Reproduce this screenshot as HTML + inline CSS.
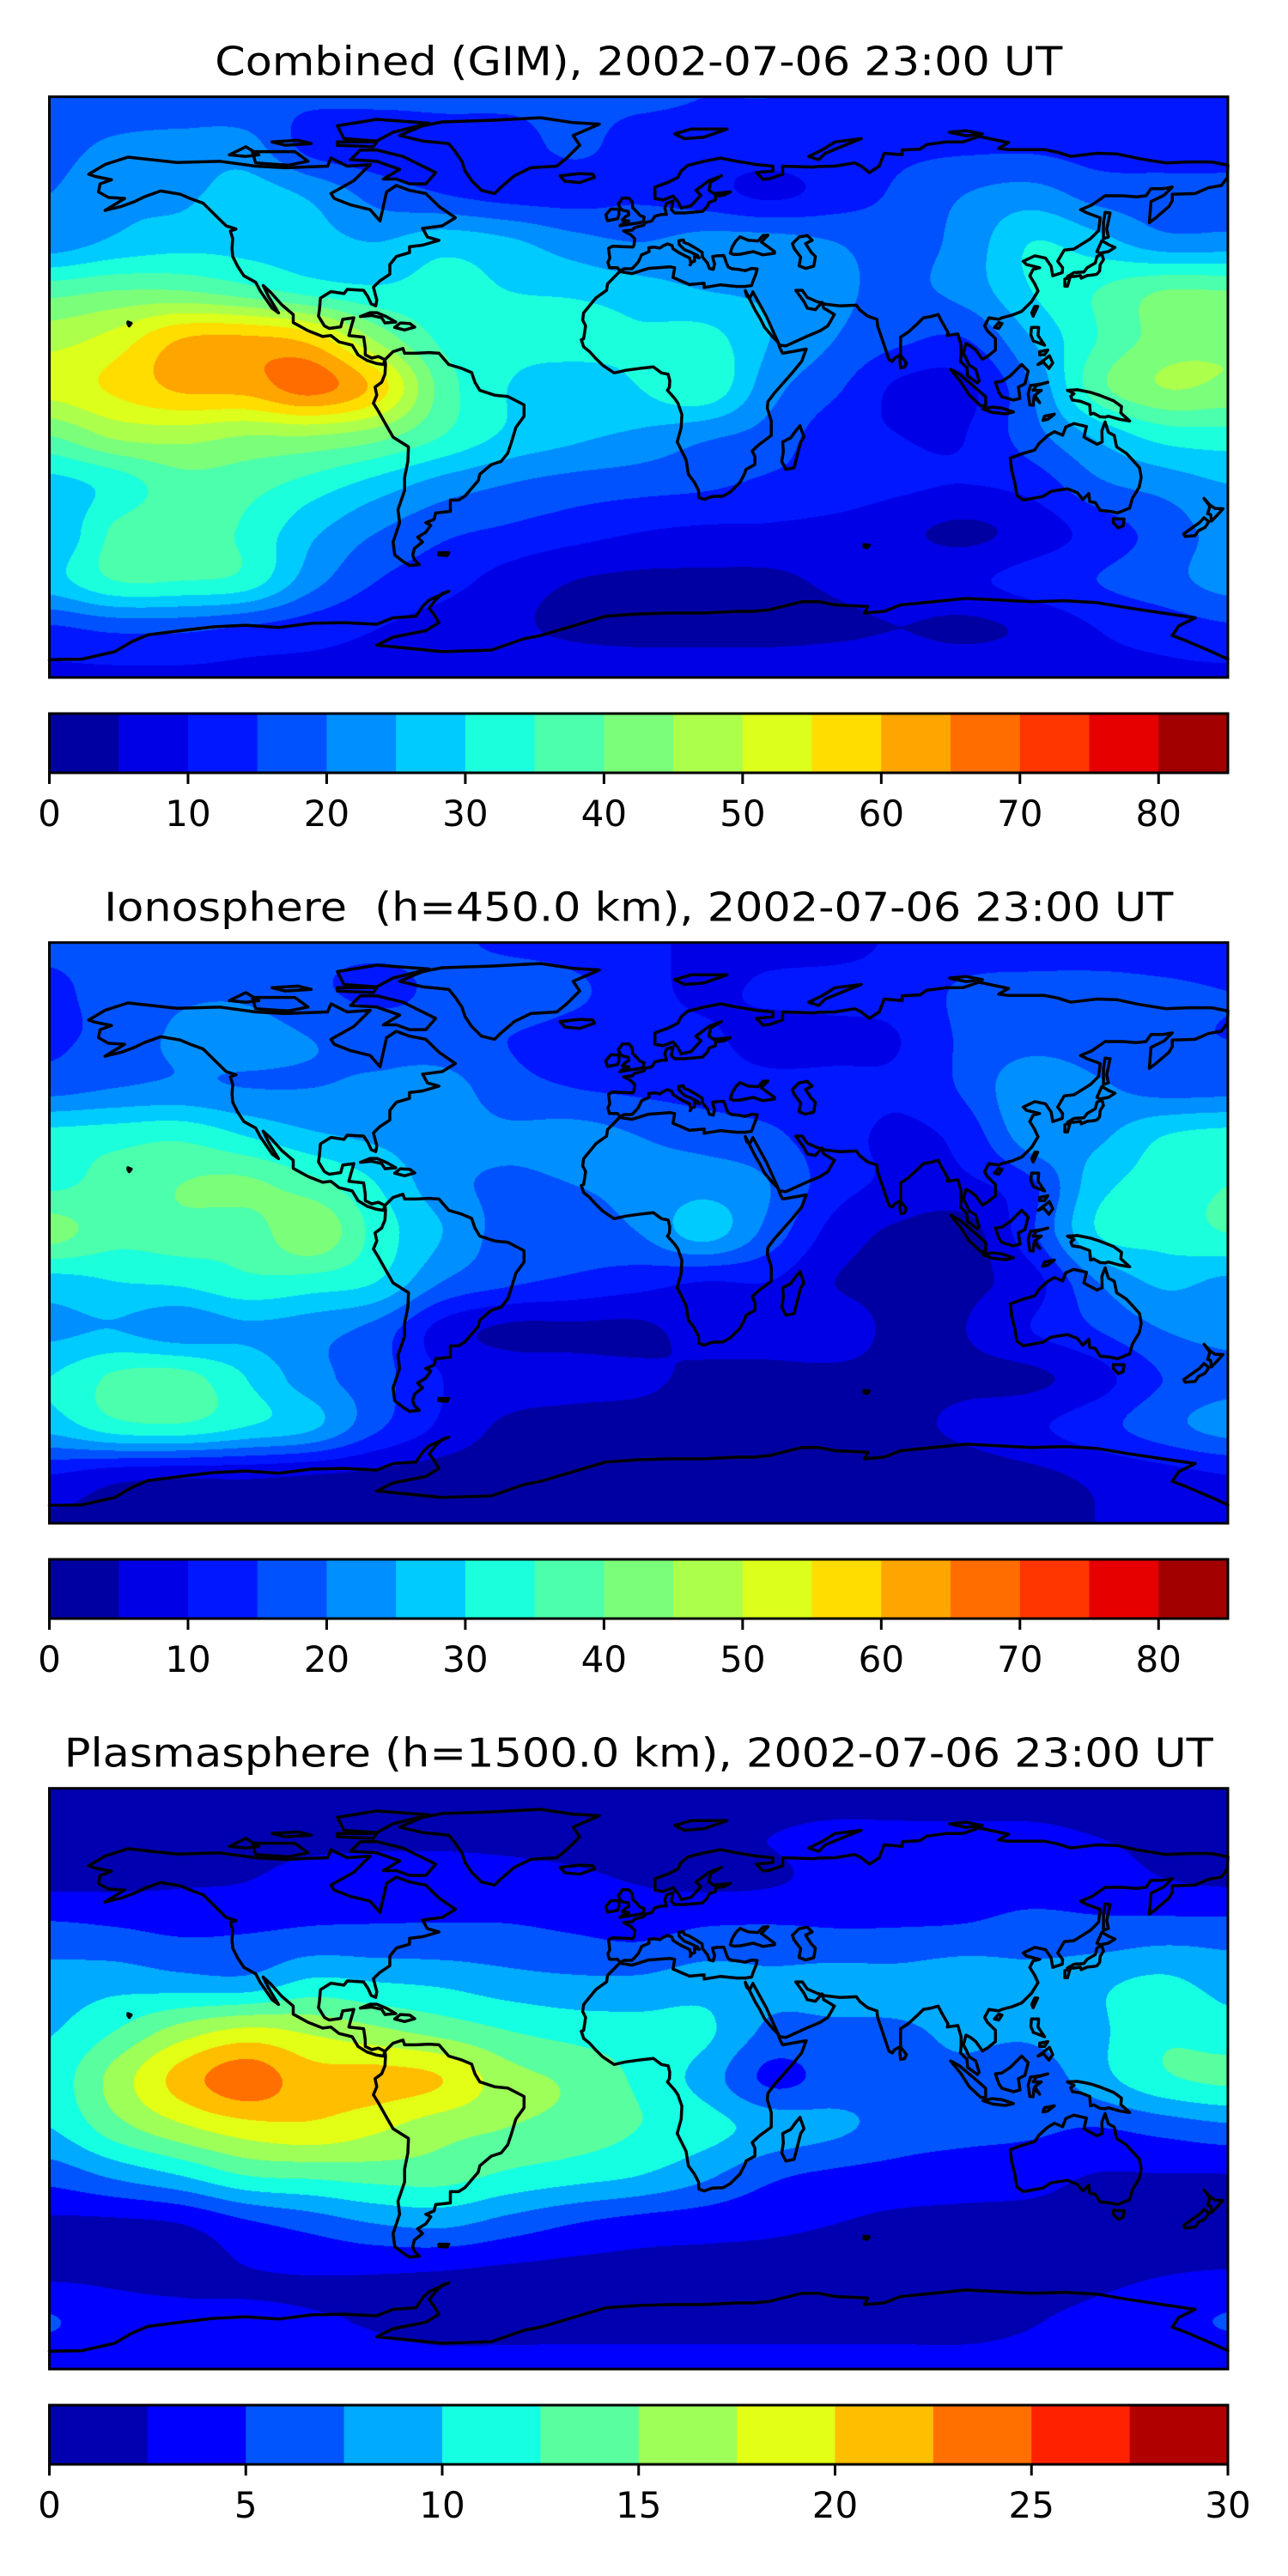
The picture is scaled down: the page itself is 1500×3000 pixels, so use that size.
<!DOCTYPE html>
<html><head><meta charset="utf-8">
<style>
html,body{margin:0;padding:0;background:#fff;}
#wrap{position:relative;width:1500px;height:3000px;overflow:hidden;background:#fff;}
canvas{position:absolute;}
#ov{position:absolute;left:0;top:0;}
text{font-family:"DejaVu Sans","Liberation Sans",sans-serif;fill:#000;}
</style></head>
<body>
<div id="wrap">
<canvas id="c0"></canvas>
<canvas id="c1"></canvas>
<canvas id="c2"></canvas>
<svg id="ov" width="1500" height="3000" xmlns="http://www.w3.org/2000/svg"></svg>
</div>
<script>
// ---- data ----
const lats=[90,75,60,45,30,15,0,-15,-30,-45,-60,-75,-90];
const lons=[-180,-160,-140,-120,-100,-80,-60,-40,-20,0,20,40,60,80,100,120,140,160,180];
const combinedGrid=[
[16,16,16,16,16,16,16,16,16,16,15,15,14,14,13,13,13,13,13],
[18,21,22,22,13,12,13,13,16,13,13,13,14,14,14,14,13,13,13],
[20,24,24,27,24,18,15,13,13,14,12,9,12,16,20,22,18,17,17],
[22,26,28,28,27,25,28,26,22,20,22,22,20,18,22,30,27,22,22],
[38,40,40,37,33,31,32,30,29,27,25,24,21,19,22,30,35,40,40],
[48,52,60,61,58,44,34,32,33,31,32,25,20,16,15,25,35,42,44],
[52,56,61,62,67,58,38,30,26,30,34,22,16,9,9,20,38,45,44],
[40,46,47,45,45,42,35,29,26,24,21,18,12,10,10,18,26,32,33],
[28,32,38,37,33,28,23,20,18,17,16,14,13,11,10,12,19,22,25],
[25,36,38,34,26,20,16,14,12,10,9,9,8,6,4,7,12,17,22],
[28,35,35,33,22,15,12,8,5,4,4,4,6,8,9,12,15,18,22],
[14,16,16,14,12,10,8,6,4,3,3,3,4,5,4,6,10,12,14],
[9,9,9,9,9,9,9,9,9,9,9,9,9,9,9,9,9,9,9]];
const ionoGrid=[
[16,16,16,16,16,16,16,14,13,12,8,8,8,11,12,12,12,12,12],
[14,17,19,19,16,14,16,18,16,12,9,11,12,12,16,17,17,16,15],
[14,17,21,22,20,18,17,15,13,12,11,8,8,10,16,18,17,16,15],
[18,20,21,20,20,21,22,17,15,14,13,12,12,11,16,24,21,18,18],
[32,33,34,30,26,24,22,21,22,20,18,16,12,9,12,23,24,30,32],
[34,37,40,41,37,30,22,19,20,21,23,20,12,9,9,14,28,32,35],
[42,37,38,37,44,33,25,18,18,20,27,18,8,4,3,14,30,32,35],
[28,30,31,34,33,30,20,16,14,12,10,10,5,4,4,8,20,26,24],
[24,25,22,24,22,18,8,4,4,4,7,7,7,4,5,10,15,20,22],
[30,36,37,30,22,17,10,8,7,6,4,4,4,4,4,4,8,15,18],
[27,33,34,30,26,16,9,4,3,3,3,3,3,4,6,9,13,18,22],
[10,7,6,6,5,4,3,3,3,3,3,3,3,3,3,4,6,8,10],
[4,4,4,4,4,4,4,4,4,4,4,4,4,4,4,4,5,6,7]];
const plasmaGrid=[
[1.5,1.5,1.5,1.5,1.5,1.5,1.5,1.5,1.5,1.5,1.5,1.5,1.5,1.5,1.5,1.5,1.5,1.5,1.5],
[2,2,2,2,2,2,2,2,2,2,2,2.5,3,3,3,3,2.5,2,2],
[2.2,2.2,2.4,2.6,3.5,4,4,3.5,3,2.5,2.2,2.4,3.2,3.7,4,4.2,3.8,2.8,2.4],
[6,5.5,4.8,5,5.5,5.5,5.5,5.5,5,4.5,5.5,5.6,5.3,5.3,5.5,6,6,6.5,6.5],
[8.5,9,8.5,8.3,10.5,10,9.5,8.5,8,8,8.8,8,8.5,8.5,9.5,8.5,9.5,10.5,9],
[9.8,12.5,16,18,17,15.5,14,12.5,11.5,11,10.5,7,7,7.2,8,8,9.5,12,11],
[11,16,21,24,21,21,20,16,14.5,12,9,4.5,6,7,7,6,9,12,13],
[10,14,17,19,19.5,18,16,15,14,12.5,11,9,8,6.5,6,5.5,5,6,7],
[6,8,10,12.5,13,13.5,13.5,12,11,10,8,5.5,4.5,4,3.5,3.2,2.4,2.4,2.4],
[2,2,2.5,4.5,6,7.5,8,6.5,5,4,3.5,3,2.5,2,2,2,2,2,2],
[2,2,2,2.4,2.6,2.6,2.4,2,1.8,1.8,1.8,1.8,1.8,1.8,1.8,1.8,2,2.4,2.6],
[5.2,3.5,3,2.8,2.6,2.4,2,2,2,2,2,2,2,2,2,2.4,3,4,5.2],
[3,3,3,3,3,3,3,3,3,3,3,3,3,3,3,3,3,3,3]];
const combinedTicks=[0,10,20,30,40,50,60,70,80];
const plasmaTicks=[0,5,10,15,20,25,30];
const titles=["Combined (GIM), 2002-07-06 23:00 UT","Ionosphere\u00a0 (h=450.0 km), 2002-07-06 23:00 UT","Plasmasphere (h=1500.0 km), 2002-07-06 23:00 UT"];

// ---- coastlines (lon,lat) ----
const coasts=[
[-168,66,-163,69,-156,71.3,-141,69.6,-128,70,-117,68.5,-108,68,-95,68.5,-94,71,-89,68.5,-82,69,-85,66,-87,64,-94,60,-93,58.5,-88,56.5,-82,55,-79,51.5,-78,56,-77,60.5,-74,62.5,-70,61,-65,60,-61,56,-56,52.5,-60,50,-66,49.2,-64.5,46.5,-61,45.5,-66,44,-70,43.5,-70,41.7,-74,40.5,-76,38,-76,35,-79,33,-81,31,-80,27,-80.3,25.2,-81.7,25.8,-82.7,28,-84,30,-89,30.3,-90,29,-94,29.6,-97.2,27.6,-97.5,24,-97.8,22,-96,19,-94.5,18.2,-91,18.7,-90.4,21,-87,21.5,-88,18,-88.5,16,-84,15.5,-83.5,12,-83.5,10,-81.5,9,-79.5,9.5,-77.5,8.5,-78,7,-80,7.3,-83,8.3,-85.7,10,-87.5,13,-91.5,14,-94,16,-96.5,15.7,-101,17.5,-105.5,20,-105.5,22.5,-109,25.5,-112.5,29.5,-114.7,31.5,-113,28,-110,23,-112,24.5,-114,27.5,-115.5,29.7,-117,32.5,-120.6,34.5,-122.5,37.5,-124,40.5,-124.2,43,-124,46,-124.7,48.4,-123,49,-126,50,-128,52,-130.5,54.5,-133,57,-137,58.5,-140,59.8,-146,60.8,-151,59,-154,57.5,-158,56,-163,54.8,-157,58.5,-162,58.8,-165,60.5,-164.5,63,-161,64.3,-166,65.3,-168,66],
[-80,73.5,-72,71.5,-67,69,-62,66.5,-65,63,-70,63,-74,64.5,-78,64.5,-73,67.5,-80,70,-88,70.5,-85,73.5,-80,73.5],
[-118,73,-105,73,-101,70,-107,68.8,-117,69.5,-118,73],
[-90,77,-80,76.3,-75,79,-64,81.8,-80,83,-92,81,-90,77],
[-92,75,-81,74.5,-80,76,-92,76,-92,75],
[-125,72,-120,74.5,-116,72,-120,71.5,-125,72],
[-112,76,-104,76.5,-100,75.5,-108,75,-112,76],
[-73,78,-66,81,-60,82.2,-45,82.7,-30,83.5,-20,82,-12,81.5,-20,78,-18,75,-22,71,-25,68.5,-33,68,-38,65.5,-42,62,-44,60,-48,61,-51,64,-53,67,-54,70,-56,73,-58,75.5,-66,76.3,-73,78],
[-24,65.5,-18,66.2,-14,66,-13.5,65,-18,63.4,-22.5,63.8,-24,65.5],
[-77.5,8.5,-75,11,-72,12,-71.5,10.5,-68,10.5,-64,10.7,-61,10.5,-58,7,-54,5.8,-51,4.5,-50,1.5,-48.5,-1,-44,-2.5,-40,-2.9,-35,-5.5,-35,-9,-37.5,-12.5,-39,-17.5,-40,-20.5,-42,-23,-45,-24,-48.5,-27,-49,-29,-53,-33.7,-55,-35,-57.5,-35,-57.5,-38.5,-62,-39,-62.5,-41,-65,-42,-63.5,-42.8,-65,-45,-67.5,-46.5,-66,-48,-68.5,-50,-69,-52,-68.5,-53.5,-67,-55,-70,-55.3,-72,-54,-74.5,-52,-75,-48,-74,-45,-73,-42,-73.5,-38,-71.5,-32,-71.5,-28,-70.5,-23,-70.3,-18.5,-75,-15.5,-77,-12,-79.5,-7.5,-81,-5,-80,-2.5,-80.5,0,-78.5,1.5,-77.5,4,-77.3,7,-77.5,8.5],
[-85,21.9,-82,23.1,-80,23.1,-77,21.8,-74.2,20.2,-77.5,19.9,-78.5,21.5,-81.5,22.2,-85,21.9],
[-74.5,18.5,-72.8,19.9,-69.9,19.7,-68.4,18.6,-71.5,17.7,-74.5,18.5],
[-156,20.2,-155,19.8,-155.6,19,-156,19.6,-156,20.2],
[-61,-51.3,-58,-51.3,-58.5,-52.2,-61,-52,-61,-51.3],
[68.8,-48.8,70.5,-49,69.8,-49.8,68.8,-49.5,68.8,-48.8],
[180,68.8,175,69.8,168,69.8,161,69.5,153,70.8,146,72.3,140,72.5,132,71.5,128,72.8,124,73.6,113,73.6,110,74,113,75.8,104,77.7,99,76,94,76,88,75.2,86,73.8,80.5,73.5,80.5,72,75,72.5,73.5,68.5,70.5,66.5,68,68.5,66,69.5,60,68.5,55,68.4,53.5,68.2,44,68.5,44,66,40,64.6,38,64.4,36,66.5,41,67,41,68.5,36,69,30,70,25,71,20,70,15,68.7,13,67,12,65,9,63.5,5,62,5,58.5,7.5,58,10.5,59.2,12,57.5,13,55.5,16,56.2,19,59.5,17.5,61,21.5,64,25.3,65.5,22,63.5,21.5,61,23,60,28,60.5,26,59.5,23.5,59.2,23.5,58,21.5,57.3,21,56,19.5,54.5,14,54,11,54,10,55,10.5,57.7,8.5,57,8,55.5,8.5,53.5,7,53.5,5,53,4,51.5,2,51,1.6,50.2,-1.2,49.5,-1.9,48.7,-4.6,48.4,-2.5,47.3,-1.2,46,-1.4,44,-1.8,43.4,-4,43.5,-8,43.7,-9.2,43,-8.8,40,-9.4,38.7,-8.9,37,-6.5,37,-5.6,36,-4.5,36.7,-2,36.7,-0.5,38.3,0,39,0.9,41,3.2,42,3.1,43.2,4.8,43.4,6.5,43.1,7.5,43.8,8.8,44.4,10.2,43.9,10.5,42.9,12.3,41.7,14,40.8,15.6,40,16,38.2,15.7,37.9,16.2,38.8,17.1,39,17,40.5,18.5,40.1,18,40.8,16,41.8,14,42.6,12.4,44.2,12.3,45.4,13.7,45.6,13.9,44.8,15.3,44.3,17.5,43,19.4,41.8,19.5,40.3,21,38.5,21.6,36.8,22.8,36.5,23.2,38.2,22.8,39.5,22.6,40.5,24,40.7,26,40.8,26.2,40.3,26.5,39.5,26.8,38.5,27.4,37.2,28.5,36.7,30.5,36.5,32.5,36.1,34.6,36.8,36.2,36.6,35.8,35,35,33,34.5,31.5,32.5,31.2],
[32.5,31.2,30,31.2,25,31.7,20,30.9,20,32.2,15.5,31.8,10.5,34,11,37,9.5,37.3,3,36.8,-2,35.2,-5.8,35.8,-9.5,32,-9.8,30,-13,27.7,-16.8,23,-17.1,20.8,-16.2,19,-16.8,15,-17.5,14.7,-16.8,12.5,-15,11,-13.2,9,-11,6.8,-7.5,4.4,-4,5.2,1,5.9,4.5,6.3,7,4.4,9,4,9.5,2,9.4,0,8.8,-1,11,-3.5,12,-5,13.2,-8.5,13,-12.5,11.8,-17,14.5,-22.5,15.2,-27,17,-29.5,18.3,-32,18.4,-34.2,20,-34.8,22.5,-33.9,25.8,-33.8,28,-32.5,31,-29.5,32.5,-26.5,32.8,-25.5,35.5,-24,35.5,-21.5,34.7,-19.8,36.8,-17.8,40.5,-15,40.5,-10.5,39.3,-6.5,39.5,-4.5,41.5,-1.8,43.5,0.5,47,4.5,49.8,8,51.2,11.8,48.5,11.3,44,10.5,43.3,11.8,42.5,14,41,15.5,38.5,18.5,37,21.5,35.6,23.8,34.3,26.5,32.6,29.9,33,28.3,33.9,27.5,34.9,29.5],
[34.9,29.5,39,22,43,13,45,12.8,52,16,55.5,17.5,57.8,19,59.8,22.5,56.5,24.5,56,26.3,54,24,51.5,24.5,50.5,26.5,48,30,50,30,51.5,27.8,54.5,26.5,57,25.7,61.5,25.2,66.5,25.4,67.5,24,70,22,72.8,21,73,19,74.5,14.5,76.5,8.5,77.5,8,78.2,9,80,10,80,15.5,82.3,17,85,19.5,87,21.5,89,21.8,91.5,22.5,92.5,20.5,94.5,17,94.3,16,97.5,16.5,98.5,13,98.5,10,98.3,8,100.3,6,100.5,3.5,103.5,1.3,104,2,103,5.5,101,6.8,100,9,99.2,10.5,100,13.5,101.5,12.7,103,11.5,105,8.6,106.5,9.5,109,11.5,109,15,106.5,17.5,105.7,19,107,21.5,110,21,111,21.5,114,22.3,117,23.5,120,26.5,122,29.8,121,32,119.5,34.5,120.5,36.5,122.5,37,118.5,38,117.5,39,121,40.7,122,40.5,124.3,40,126,37.5,126.5,34.5,129.4,35.5,129.5,37,128,39,130,42.5,133,42.8,138,46,140.5,48.5,141,52.5,137,54,135,55,138.5,56.5,142.5,59.3,148,59.3,152,59,155,59.3,156.5,61.5,160,61.5,163,62,160.5,59.5,156.5,57.5,156,51,158,52.5,162,56,163,57.8,163,59.8,170,60,174,61.8,178,62.5,179.9,65,180,68.8],
[28,41.5,28.6,43.5,29.7,45.3,31,46.6,33.5,45.5,36.5,45.3,38,47,39.5,47.1,37.5,45,41.5,42,41.5,41.5,38,41,35,42,31,41.2,29,41.1,28,41.5],
[47,44.5,49,46.5,51.5,47,53,45.5,51,44.5,52.7,41.8,54,40.5,53.5,37.5,51,36.8,49,37.6,49.5,40.3,47.5,43,47,44.5],
[-5,58.6,-3,58.6,-2,57.5,-1.8,55.6,-0.2,54,0.3,53.3,1.7,52.7,1.4,51.2,-0.8,50.8,-3.5,50.4,-5.7,50,-4.2,51.2,-3,51.5,-5,51.8,-4.1,52.8,-3,53.4,-3.2,54.5,-4.8,54.8,-5.6,55.4,-6.2,56.8,-5.5,57.7,-5,58.6],
[-6,55.2,-6,53.5,-6.4,52.2,-9.5,51.6,-10,53.4,-8.5,55.2,-6,55.2],
[11,78.5,16,80,27,80,20,77.5,14,77,11,78.5],
[52,71.5,56,73.5,60,76,68,77,63,75,57,72.5,55,70.5,52,71.5],
[95,79,100,79.5,105,78.5,100,77.9,95,79],
[49.3,-12,50.5,-15.5,49.5,-17,47.5,-25,45,-25.5,43.7,-23,44.2,-20,44,-17,46.5,-15.7,48,-13.5,49.3,-12],
[80,9.8,81.8,7.5,81.2,6.2,80,6,79.8,8,80,9.8],
[113.5,-22,114,-26,115,-30,115.5,-33.5,117.5,-35,123.5,-33.9,126,-32.3,131,-31.5,134,-32.7,135.7,-34.8,137.5,-33,137.8,-35.5,139.5,-35.8,141,-38.2,144,-38.5,146.3,-39,150,-37.5,150.8,-34.5,152.9,-31,153.5,-28,153,-25,150.8,-22.5,149,-20.5,146,-18.5,145.3,-15,143.5,-14,142.5,-10.8,141.5,-13.5,141.6,-17,140,-17.7,136,-15.5,136.8,-12.2,133,-11.3,130.5,-12.3,129.5,-14.9,127,-13.8,125,-15,122.3,-17.5,121,-19.5,117,-20.7,114,-21.8,113.5,-22],
[145,-40.8,148.3,-40.9,148,-43,146.5,-43.6,145,-42,145,-40.8],
[172.7,-34.5,174.5,-36.5,176,-37.6,178.5,-37.7,177.2,-39.2,175,-41.5,174.7,-39.5,173.8,-39.2,174.5,-37,172.7,-34.5],
[172.7,-40.5,174.2,-41.7,173,-43.5,171,-44.5,170,-46,167,-46.3,166.5,-45.5,168.5,-44,171.3,-42,172.7,-40.5],
[130.2,33.5,131.8,34,131,31.3,130.2,31.3,130.2,33.5],
[131,34.3,133,35.5,136,35.7,137,37,139.5,38.5,140,40.5,141.5,41.3,142,39.5,141,38,140.8,36,140,35,139,34.8,137,34.6,135.2,33.8,135,34.6,133,34.3,131,34.3],
[140,42,141.5,45.4,143.5,44.2,145.5,43.3,143.5,42,141,41.5,140,42],
[142,46,143.5,46.5,143,49,144,54,142.5,54.2,142,51,142,46],
[120.5,22,121.9,25,121,25,120.1,23,120.5,22],
[108.7,18.5,110,20,111,19.7,110,18.2,108.7,18.5],
[120,18.5,122.2,18.5,122,16,124,13,122,13.8,120.6,14.3,119.8,16.2,120,18.5],
[122,7,125.5,9.7,126.5,7.5,125.3,5.8,123.7,7.7,122,7],
[122.5,11,125,11.5,124,10,122.5,10,122.5,11],
[109,1.5,110,-1.5,111,-3,114.5,-4,116.5,-3.5,116,0,118,1,119,5,117,7,116,6,113.5,3.5,111,1.8,109,1.5],
[95.3,5.5,98,4,103.8,-1,106,-3,106,-5.8,104.5,-5.8,101,-2.5,98.5,1.5,95.3,5.5],
[105.2,-6.8,108,-6.2,111,-6.5,114.5,-7.7,112,-8.3,108,-7.8,105.2,-6.8],
[119.5,-5.5,119,-2,119.7,0.5,123,1,125,1.5,121.5,0.5,120.5,-1,123,-1,121,-2.5,122.5,-4.8,120.8,-3,120.5,-5.6,119.5,-5.5],
[131,-1,134,-0.8,138,-1.6,141,-2.6,145,-4.2,147.5,-6,147.3,-8,150,-10.5,147,-10,143.5,-9,142.5,-9.3,141,-9.2,139,-8.1,138,-8.4,137.8,-5.5,135,-4.4,132.5,-4,132,-2.8,133,-2,131,-1],
[124,-9,127,-8.4,125,-10,123.5,-10.3,124,-9],
[-180,-84.5,-170,-84.3,-160,-82,-155,-79,-150,-76.8,-140,-75.5,-130,-74.3,-120,-73.8,-110,-74.5,-100,-73.2,-90,-73,-80,-73.5,-75,-71.5,-68,-71,-66,-68,-64,-66,-58,-63.3,-60,-64,-62,-66,-64,-68.5,-62.5,-70.5,-61,-73,-65,-75.5,-75,-77.5,-80,-80,-60,-82,-45,-81.5,-35,-78,-30,-77,-20,-74,-15,-72.5,-10,-71,0,-70.3,10,-70,20,-70,30,-69.5,35,-69.5,40,-69,50,-66.5,55,-66.5,60,-67.5,70,-68,69,-70,75,-69.5,80,-67.5,90,-66.5,100,-65.5,110,-66,120,-66.5,130,-66.2,140,-66.8,150,-68.5,160,-70,170,-71.5,165,-74,163,-77,167,-78.5,175,-82,180,-84.3]
];

// ---- layout ----
const MX=57.5, MW=1372.5, MH=676.3, PANEL=985;
const mapTop=[112.7,112.7+PANEL,112.7+2*PANEL];
const cbTop=[831,831+PANEL,831+2*PANEL];
const CBH=69;
const grids=[combinedGrid,ionoGrid,plasmaGrid];
const vmax=[85,85,30], step=[5,5,2.5];
const tickSets=[combinedTicks,combinedTicks,plasmaTicks];
const titleW=[987,1245,1338];
const panelNames=['combined','ionosphere','plasmasphere'];

function jet(x){
  function interp(pts){for(let i=0;i<pts.length-1;i++){const a=pts[i],b=pts[i+1];if(x<=b[0]){return a[1]+(b[1]-a[1])*(x-a[0])/(b[0]-a[0]);}}return pts[pts.length-1][1];}
  const r=interp([[0,0],[0.35,0],[0.66,1],[0.89,1],[1,0.5]]);
  const g=interp([[0,0],[0.125,0],[0.375,1],[0.64,1],[0.91,0],[1,0]]);
  const b=interp([[0,0.5],[0.11,1],[0.34,1],[0.65,0],[1,0]]);
  return [Math.round(r*255),Math.round(g*255),Math.round(b*255)];
}
function levelColors(p){const n=Math.round(vmax[p]/step[p]);const out=[];for(let i=0;i<n;i++){out.push(jet((i+0.5)*step[p]/vmax[p]));}return out;}
function cr(p0,p1,p2,p3,t){return 0.5*((2*p1)+(-p0+p2)*t+(2*p0-5*p1+4*p2-p3)*t*t+(-p0+3*p1-3*p2+p3)*t*t*t);}

const NS='http://www.w3.org/2000/svg';
const svg=document.getElementById('ov');
function el(tag,attrs,parent){const e=document.createElementNS(NS,tag);for(const k in attrs)e.setAttribute(k,attrs[k]);(parent||svg).appendChild(e);return e;}

for(let p=0;p<3;p++){
  const cols=levelColors(p);
  const G=grids[p];
  const nR=lats.length,nC=lons.length;
  const cv=document.getElementById('c'+p);
  const W=Math.round(MW),H=Math.round(MH);
  cv.width=W;cv.height=H;
  cv.style.left=MX+'px';cv.style.top=mapTop[p]+'px';
  cv.style.width=MW+'px';cv.style.height=MH+'px';
  const ctx=cv.getContext('2d');
  const img=ctx.createImageData(W,H);
  const gv=(r,c)=>G[Math.max(0,Math.min(nR-1,r))][Math.max(0,Math.min(nC-1,c))];
  const lonSpan=lons[nC-1]-lons[0], latSpan=lats[0]-lats[nR-1];
  for(let y=0;y<H;y++){
    const lat=lats[0]-(y+0.5)/H*latSpan;
    const v=(lats[0]-lat)/latSpan*(nR-1);
    const r=Math.floor(v), tv=v-r;
    for(let x=0;x<W;x++){
      const lon=lons[0]+(x+0.5)/W*lonSpan;
      const u=(lon-lons[0])/lonSpan*(nC-1);
      const c=Math.floor(u), tu=u-c;
      const rowv=[];
      for(let k=-1;k<=2;k++){rowv.push(cr(gv(r+k,c-1),gv(r+k,c),gv(r+k,c+1),gv(r+k,c+2),tu));}
      const val=cr(rowv[0],rowv[1],rowv[2],rowv[3],tv);
      let li=Math.floor(val/step[p]);if(li<0)li=0;if(li>cols.length-1)li=cols.length-1;
      const col=cols[li];const o=(y*W+x)*4;
      img.data[o]=col[0];img.data[o+1]=col[1];img.data[o+2]=col[2];img.data[o+3]=255;
    }
  }
  ctx.putImageData(img,0,0);

  const g=el('g',{});
  
  
  const t=el('text',{x:MX+MW/2,y:mapTop[p]-25,'text-anchor':'middle','font-size':'46',textLength:titleW[p],lengthAdjust:'spacingAndGlyphs'},g);
  t.textContent=titles[p];
  
  

  const xOf=lon=>MX+(lon+180)/360*MW;
  const yOf=lat=>mapTop[p]+(90-lat)/180*MH;
  const cg=el('g',{fill:'none',stroke:'#000','stroke-width':'3.5','stroke-linejoin':'round','stroke-linecap':'round'},g);
  
  
  for(const line of coasts){
    let d='';
    for(let i=0;i<line.length;i+=2){d+=(i?'L':'M')+xOf(line[i]).toFixed(1)+','+yOf(line[i+1]).toFixed(1);}
    const pa=el('path',{d:d},cg);
    
    
  }
  const fr=el('rect',{x:MX,y:mapTop[p],width:MW,height:MH,fill:'none',stroke:'#000','stroke-width':'3'},g);
  
  

  const cb=el('g',{},g);
  
  
  const cx=v=>MX+v/vmax[p]*MW;
  for(let i=0;i<cols.length;i++){
    const c=cols[i];
    const rr=el('rect',{x:cx(i*step[p]).toFixed(2),y:cbTop[p],width:(cx(step[p])-MX+0.6).toFixed(2),height:CBH,fill:'rgb('+c[0]+','+c[1]+','+c[2]+')'},cb);
    
    
  }
  const cf=el('rect',{x:MX,y:cbTop[p],width:MW,height:CBH,fill:'none',stroke:'#000','stroke-width':'3'},cb);
  
  
  for(const tv of tickSets[p]){
    const tx=cx(tv);
    const tl=el('line',{x1:tx,x2:tx,y1:cbTop[p]+CBH,y2:cbTop[p]+CBH+13,stroke:'#000','stroke-width':'3'},cb);
    
    
    const lb=el('text',{x:tx,y:cbTop[p]+CBH+62,'text-anchor':'middle','font-size':'42'},cb);
    lb.textContent=String(tv);
    
    
  }
}
</script>
</body></html>
